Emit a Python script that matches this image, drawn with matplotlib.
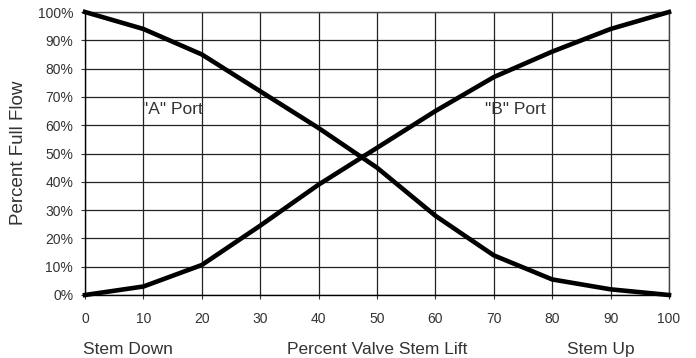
import matplotlib
matplotlib.use("Agg")
import matplotlib.pyplot as plt
from matplotlib.ticker import FuncFormatter

plt.rcParams['font.family'] = ['Liberation Sans', 'DejaVu Sans']

stem_lift = [0, 10, 20, 30, 40, 50, 60, 70, 80, 90, 100]
port_a = [100, 94, 85, 72, 59, 45, 28, 14, 5.5, 2, 0]
port_b = [0, 3, 10.6, 24.5, 39, 52, 65, 77, 86, 94, 100]
x_ticks = [0, 10, 20, 30, 40, 50, 60, 70, 80, 90, 100]
y_ticks = [0, 10, 20, 30, 40, 50, 60, 70, 80, 90, 100]

txt = '#333333'
fig = plt.figure(figsize=(6.96, 3.58), dpi=100)
ax = fig.add_axes([85/696, 1-295/358, (669-85)/696, (295-12)/358])

ax.plot(stem_lift, port_a, color='black', linewidth=3.3, solid_joinstyle='round', clip_on=False, zorder=3)
ax.plot(stem_lift, port_b, color='black', linewidth=3.3, solid_joinstyle='round', clip_on=False, zorder=3)

ax.set_xlim(0, 100)
ax.set_ylim(0, 100)
ax.set_xticks(x_ticks)
ax.set_yticks(y_ticks)
ax.yaxis.set_major_formatter(FuncFormatter(lambda v, p: f"{int(v)}%"))
ax.grid(True, color='#222222', linewidth=0.9)
ax.set_axisbelow(True)
for s in ax.spines.values():
    s.set_color('#444444')
    s.set_linewidth(1.0)
ax.spines['left'].set_color('black')
ax.spines['bottom'].set_color('black')
ax.tick_params(axis='both', direction='out', length=3, width=0.8, colors='#333333',
               labelsize=10, labelcolor=txt)
ax.tick_params(axis='y', pad=5.5)
ax.tick_params(axis='x', pad=9)

fig.text(19/696, 1-153/358, "Percent Full Flow", fontsize=13.5, color=txt,
         rotation=90, ha='center', va='center')
ax.text(9.8, 65.5, '"A" Port', fontsize=12.5, color=txt, va='center', ha='left')
ax.text(68.5, 65.5, '"B" Port', fontsize=12.5, color=txt, va='center', ha='left')

base_y = 1 - 354/358
fig.text(377/696, base_y, "Percent Valve Stem Lift", fontsize=12.5, color=txt, ha='center', va='baseline')
fig.text(128/696, base_y, "Stem Down", fontsize=12.5, color=txt, ha='center', va='baseline')
fig.text(601/696, base_y, "Stem Up", fontsize=12.5, color=txt, ha='center', va='baseline')

fig.savefig("out.png", dpi=100)
